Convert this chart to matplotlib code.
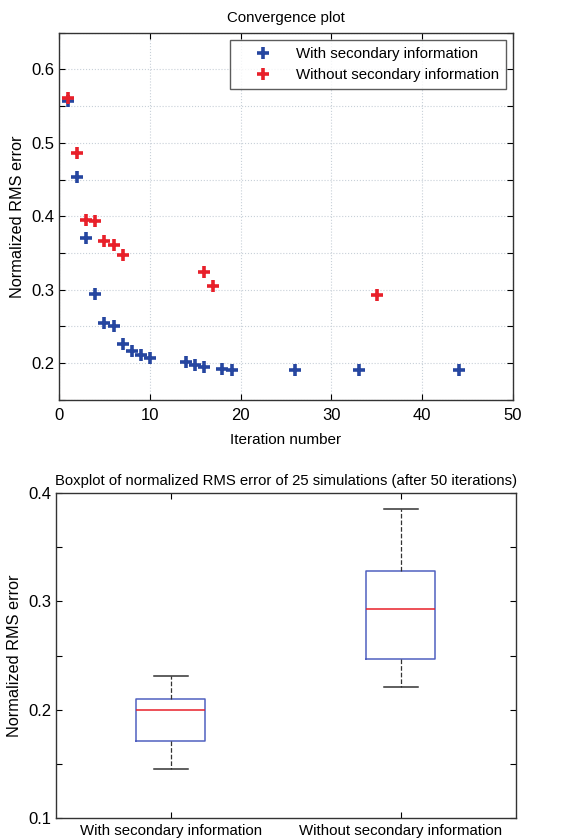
import matplotlib

matplotlib.use("Agg")
import matplotlib.pyplot as plt  # noqa: E402
from matplotlib.ticker import FuncFormatter, MultipleLocator  # noqa: E402

plt.rcParams["font.family"] = ["Liberation Sans", "DejaVu Sans"]

# convergence data
iter_with = [1, 2, 3, 4, 5, 6, 7, 8, 9, 10, 14, 15, 16, 18, 19, 26, 33, 44]
err_with = [0.557, 0.454, 0.370, 0.294, 0.254, 0.250, 0.226, 0.217, 0.211, 0.207,
            0.202, 0.197, 0.195, 0.192, 0.190, 0.190, 0.190, 0.190]
iter_without = [1, 2, 3, 4, 5, 6, 7, 16, 17, 35]
err_without = [0.561, 0.486, 0.395, 0.394, 0.367, 0.361, 0.347, 0.324, 0.305, 0.293]

# boxplot summary (whislo, q1, med, q3, whishi)
box_labels = ["With secondary information", "Without secondary information"]
box_whislo = [0.145, 0.221]
box_q1 = [0.171, 0.247]
box_med = [0.200, 0.293]
box_q3 = [0.210, 0.328]
box_whishi = [0.231, 0.385]

BLUE = "#2646a0"
RED = "#e8202a"


def tenth_labels(v, _):
    return f"{v:.1f}" if abs(v * 10 - round(v * 10)) < 1e-6 else ""


def style_axes(ax):
    ax.tick_params(direction="in", top=True, right=True, labelsize=12, length=4)
    ax.tick_params(axis="x", pad=6)
    for s in ax.spines.values():
        s.set_linewidth(1.0)
        s.set_color("#333333")


fig = plt.figure(figsize=(5.62, 8.4), dpi=100)

# convergence plot
ax1 = fig.add_axes([0.105, 0.524, 0.808, 0.437])
ax1.plot(iter_with, err_with, "+", color=BLUE, markersize=8, markeredgewidth=2.6,
         label="With secondary information")
ax1.plot(iter_without, err_without, "+", color=RED, markersize=8, markeredgewidth=2.6,
         label="Without secondary information")
ax1.set_xlim(0, 50)
ax1.set_ylim(0.15, 0.65)
ax1.xaxis.set_major_locator(MultipleLocator(10))
ax1.yaxis.set_major_locator(MultipleLocator(0.05))
ax1.yaxis.set_major_formatter(FuncFormatter(tenth_labels))
ax1.grid(True, linestyle=":", color="#c8d0d8", linewidth=0.8)
style_axes(ax1)
ax1.set_title("Convergence plot", fontsize=10.8, pad=8)
ax1.set_xlabel("Iteration number", fontsize=11, labelpad=7)
ax1.set_ylabel("Normalized RMS error", fontsize=11.7)
ax1.legend(loc="upper right", fontsize=10.8, frameon=True, fancybox=False,
           edgecolor="#333333", borderaxespad=0.5, handlelength=3.4,
           handletextpad=0.5, borderpad=0.45, labelspacing=0.45)

# boxplot
ax2 = fig.add_axes([0.0996, 0.026, 0.8184, 0.387])
stats = [
    {"whislo": lo, "q1": q1, "med": md, "q3": q3, "whishi": hi, "label": lab}
    for lo, q1, md, q3, hi, lab in zip(box_whislo, box_q1, box_med, box_q3,
                                       box_whishi, box_labels)
]
ax2.bxp(stats, positions=[1, 2], widths=0.3, showfliers=False,
        boxprops=dict(color="#5060c0", linewidth=1.1),
        medianprops=dict(color=RED, linewidth=1.1),
        whiskerprops=dict(color="#333333", linestyle="--", linewidth=0.9),
        capprops=dict(color="#333333", linewidth=1.1),
        capwidths=0.145)
ax2.set_xlim(0.5, 2.5)
ax2.set_ylim(0.1, 0.4)
ax2.yaxis.set_major_locator(MultipleLocator(0.05))
ax2.yaxis.set_major_formatter(FuncFormatter(tenth_labels))
style_axes(ax2)
ax2.tick_params(axis="x", labelsize=10.8, pad=4)
ax2.set_title("Boxplot of normalized RMS error of 25 simulations (after 50 iterations)",
              fontsize=10.75, pad=6)
ax2.set_ylabel("Normalized RMS error", fontsize=11.7)

fig.savefig("out.png", dpi=100)
